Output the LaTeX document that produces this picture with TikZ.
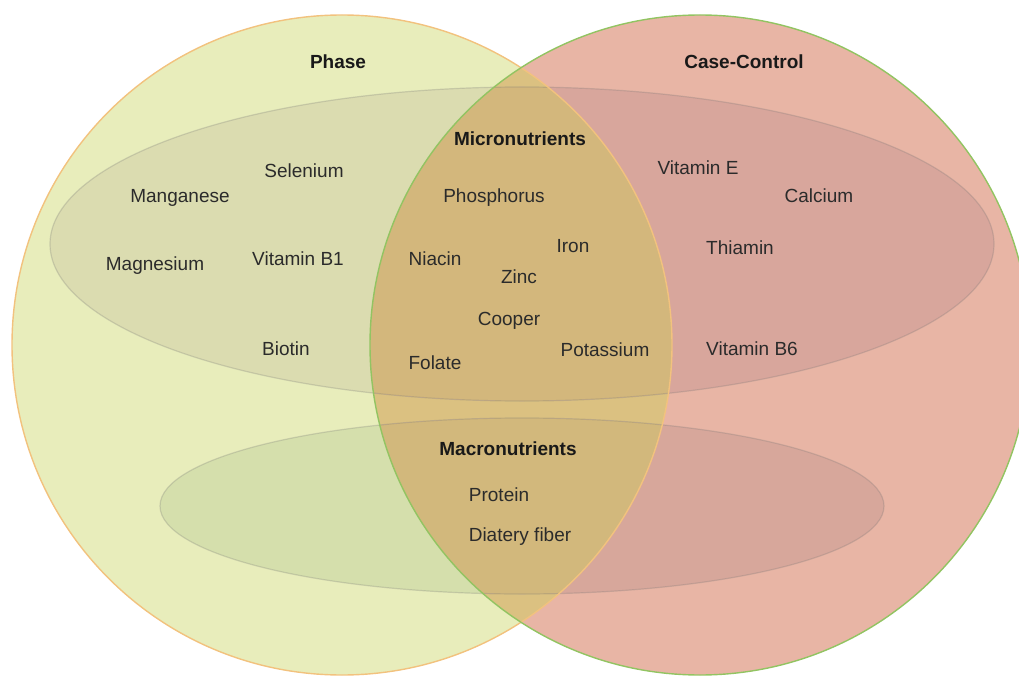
\documentclass[tikz,border=0pt]{standalone}
\usepackage{fontspec}
\setmainfont{Liberation Sans}
\usetikzlibrary{positioning}

\definecolor{phasefill}{HTML}{E8EDBB}
\definecolor{ccfill}{HTML}{E8B5A5}
\definecolor{bothfill}{HTML}{DBC181}
\definecolor{phasemicro}{HTML}{DBDCB0}
\definecolor{ccmicro}{HTML}{D8A69C}
\definecolor{bothmicro}{HTML}{D3B77C}
\definecolor{phasemacro}{HTML}{D5DFAC}
\definecolor{ccmacro}{HTML}{D7A79B}
\definecolor{bothmacro}{HTML}{D2B87C}
\definecolor{phaseline}{HTML}{F2C27E}
\definecolor{ccline}{HTML}{92C462}
\definecolor{itemtext}{HTML}{2B2B2B}

\begin{document}
\begin{tikzpicture}[x=1pt, y=-1pt]
    \tikzstyle{item} = [font=\fontsize{19}{21}\selectfont, text=itemtext, inner sep=0pt, text height=13.6pt, text depth=0pt]
    \tikzstyle{title} = [item, font=\fontsize{19}{21}\selectfont\bfseries, text=black!90]
    \tikzstyle{rim} = [draw=black!55, draw opacity=0.25, line width=1.2pt]

    \useasboundingbox (0,0) rectangle (1019,676);

    % centres of the two sets and the two groups
    \coordinate (pc) at (342,345);
    \coordinate (cc) at (700,345);
    \coordinate (mc) at (522,244);
    \coordinate (ma) at (522,506);

    % Phase (left) and Case-Control (right)
    \fill[phasefill] (pc) circle (330pt);
    \fill[ccfill] (cc) circle (330pt);
    \begin{scope}
        \clip (pc) circle (330pt);
        \fill[bothfill] (cc) circle (330pt);
    \end{scope}

    % Micronutrients band
    \begin{scope}
        \clip (mc) ellipse [x radius=472pt, y radius=157pt];
        \fill[phasemicro] (pc) circle (330pt);
        \fill[ccmicro] (cc) circle (330pt);
        \clip (pc) circle (330pt);
        \fill[bothmicro] (cc) circle (330pt);
    \end{scope}

    % Macronutrients band
    \begin{scope}
        \clip (ma) ellipse [x radius=362pt, y radius=88pt];
        \fill[phasemacro] (pc) circle (330pt);
        \fill[ccmacro] (cc) circle (330pt);
        \clip (pc) circle (330pt);
        \fill[bothmacro] (cc) circle (330pt);
    \end{scope}

    \draw[rim] (mc) ellipse [x radius=472pt, y radius=157pt];
    \draw[rim] (ma) ellipse [x radius=362pt, y radius=88pt];
    \draw[phaseline, line width=1.4pt] (pc) circle (330pt);
    \draw[ccline, line width=1.4pt] (cc) circle (330pt);

    % set titles
    \node[title] (phase) at (338,62) {Phase};
    \node[title] (casectrl) at (744,62) {Case-Control};
    \node[title] (micro) at (520,139) {Micronutrients};
    \node[title] (macro) at (508,449) {Macronutrients};

    % Phase only
    \node[item] (selen) at (304,171) {Selenium};
    \node[item] (mangan) at (180,196) {Manganese};
    \node[item] (magnes) at (155,264) {Magnesium};
    \node[item] (vitb1) at (298,259) {Vitamin B1};
    \node[item] (biotin) at (286,349) {Biotin};

    % both sets
    \node[item] (phosph) at (494,196) {Phosphorus};
    \node[item] (iron) at (573,246) {Iron};
    \node[item] (niacin) at (435,259) {Niacin};
    \node[item] (zinc) at (519,277) {Zinc};
    \node[item] (cooper) at (509,319) {Cooper};
    \node[item] (folate) at (435,363) {Folate};
    \node[item] (potass) at (605,350) {Potassium};
    \node[item] (protein) at (499,495) {Protein};
    \node[item] (fiber) at (520,535) {Diatery fiber};

    % Case-Control only
    \node[item] (vite) at (698,168) {Vitamin E};
    \node[item] (calc) at (819,196) {Calcium};
    \node[item] (thiam) at (740,248) {Thiamin};
    \node[item] (vitb6) at (752,349) {Vitamin B6};
\end{tikzpicture}
\end{document}
